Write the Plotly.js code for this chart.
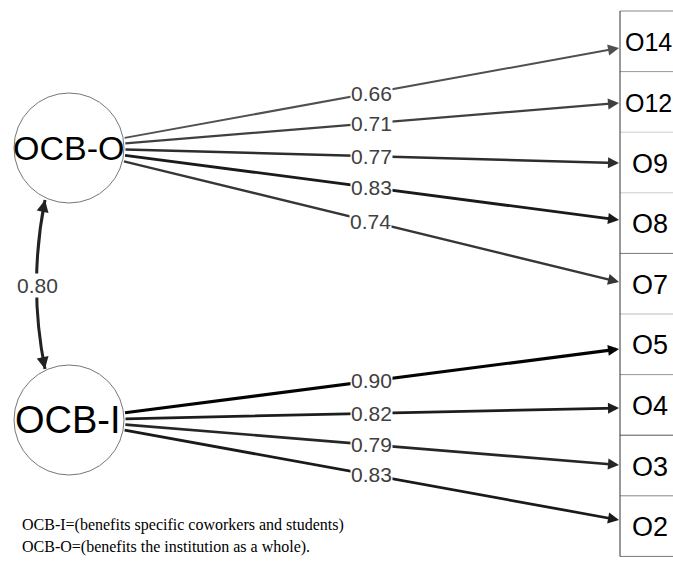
<!DOCTYPE html>
<html>
<head>
<meta charset="utf-8">
<script src="https://cdn.plot.ly/plotly-3.0.1.min.js"></script>
<style>html,body{margin:0;padding:0;background:#fff;}#chart{width:673px;height:561px;}</style>
</head>
<body>
<div id="chart"></div>
<script>
// ---- data ----
const factors = ['OCB-O', 'OCB-I'];
const indicators = ['O14', 'O12', 'O9', 'O8', 'O7', 'O5', 'O4', 'O3', 'O2'];
const indicatorFactor = ['OCB-O', 'OCB-O', 'OCB-O', 'OCB-O', 'OCB-O', 'OCB-I', 'OCB-I', 'OCB-I', 'OCB-I'];
const loadings = [0.66, 0.71, 0.77, 0.83, 0.74, 0.90, 0.82, 0.79, 0.83];
const factorCorrelation = 0.80;
const notes = ['OCB-I=(benefits specific coworkers and students)', 'OCB-O=(benefits the institution as a whole).'];

// ---- layout geometry (pixel space) ----
const W = 673, H = 561;
const factorCenter = {'OCB-O': [69, 148], 'OCB-I': [69, 420]};
const factorFontSize = {'OCB-O': 34, 'OCB-I': 38};
const R = 55;
const boxX0 = 620, boxX1 = 690, boxTop = 11, boxH = 60.6;
const tipX = 619;
const tipY = [48, 103, 163, 220, 282, 349, 408, 465, 520];
const sepColors = ['#888', '#999', '#ccc', '#ccc', '#777', '#bbb', '#999', '#555', '#888', '#777'];
const SANS = 'Liberation Sans, Arial, sans-serif';
const SERIF = 'Liberation Serif, Times New Roman, serif';

const shapes = [];
const annotations = [];

// factor circles
factors.forEach(f => {
  const [cx, cy] = factorCenter[f];
  shapes.push({type: 'circle', xref: 'x', yref: 'y', x0: cx - R, x1: cx + R, y0: cy - R, y1: cy + R,
    line: {color: '#777', width: 1}, fillcolor: 'rgba(0,0,0,0)'});
});

// indicator boxes
for (let i = 0; i <= indicators.length; i++) {
  const y = boxTop + boxH * i;
  shapes.push({type: 'line', xref: 'x', yref: 'y', x0: boxX0, x1: boxX1, y0: y, y1: y,
    line: {color: sepColors[i], width: 1}});
}
shapes.push({type: 'line', xref: 'x', yref: 'y', x0: boxX0, x1: boxX0, y0: boxTop, y1: boxTop + boxH * indicators.length,
  line: {color: '#333', width: 1}});
indicators.forEach((name, i) => {
  const long = name.length > 2;
  annotations.push({x: long ? 623 : 650, y: boxTop + boxH * (i + 0.5) + 1, xref: 'x', yref: 'y', text: name,
    showarrow: false, xanchor: long ? 'left' : 'center',
    font: {family: SANS, size: long ? 25 : 27, color: '#000'}});
});

// loading edges
const labelAnns = [];
indicators.forEach((name, i) => {
  const [cx, cy] = factorCenter[indicatorFactor[i]];
  const ang = Math.atan2(tipY[i] - cy, tipX - cx);
  const tx = cx + R * Math.cos(ang), ty = cy + R * Math.sin(ang);
  const l = loadings[i];
  const g = Math.max(0, Math.round(80 - (l - 0.66) * 320));
  const col = `rgb(${g},${g},${g})`;
  const w = 2 + (l - 0.66) * 4.5;
  annotations.push({x: tipX, y: tipY[i], ax: tx, ay: ty, xref: 'x', yref: 'y', axref: 'x', ayref: 'y',
    text: '', showarrow: true, arrowhead: 2, arrowsize: 2.2 / w, arrowwidth: w, arrowcolor: col,
    standoff: 0, startstandoff: 0});
  labelAnns.push({x: (tx + tipX) / 2, y: (ty + tipY[i]) / 2, xref: 'x', yref: 'y', text: l.toFixed(2),
    showarrow: false, bgcolor: '#fff', borderpad: 0, font: {family: SANS, size: 21, color: '#404040'}});
});

// factor correlation (curved double-headed)
const p0 = [45, 200], p2 = [45, 369], c = [28, 285];
shapes.push({type: 'path', xref: 'x', yref: 'y',
  path: `M ${p0[0]} ${p0[1]} Q ${c[0]} ${c[1]} ${p2[0]} ${p2[1]}`,
  line: {color: '#222', width: 3}});
[[p0, c], [p2, c]].forEach(([p, q]) => {
  const k = 0.12;
  annotations.push({x: p[0], y: p[1], ax: p[0] + (q[0] - p[0]) * k, ay: p[1] + (q[1] - p[1]) * k,
    xref: 'x', yref: 'y', axref: 'x', ayref: 'y', text: '', showarrow: true, arrowhead: 2,
    arrowsize: 0.8, arrowwidth: 3, arrowcolor: '#222', standoff: 0, startstandoff: 0});
});
labelAnns.push({x: 37, y: 285, xref: 'x', yref: 'y', text: factorCorrelation.toFixed(2), showarrow: false,
  bgcolor: '#fff', borderpad: 0, font: {family: SANS, size: 21, color: '#404040'}});

// factor labels
factors.forEach(f => {
  const [cx, cy] = factorCenter[f];
  labelAnns.push({x: cx - 1, y: cy, xref: 'x', yref: 'y', text: f, showarrow: false,
    font: {family: SANS, size: factorFontSize[f], color: '#000'}});
});

// notes
notes.forEach((t, i) => {
  labelAnns.push({x: 20, y: 525 + 22 * i, xref: 'x', yref: 'y', text: t, showarrow: false, xanchor: 'left',
    font: {family: SERIF, size: 16, color: '#000'}});
});

const layout = {
  width: W, height: H, margin: {l: 0, r: 0, t: 0, b: 0},
  paper_bgcolor: '#fff', plot_bgcolor: '#fff', showlegend: false,
  xaxis: {range: [0, W], visible: false, fixedrange: true},
  yaxis: {range: [H, 0], visible: false, fixedrange: true},
  shapes: shapes,
  annotations: annotations.concat(labelAnns)
};

Plotly.newPlot('chart', [], layout, {staticPlot: true, displayModeBar: false});
</script>
</body>
</html>
